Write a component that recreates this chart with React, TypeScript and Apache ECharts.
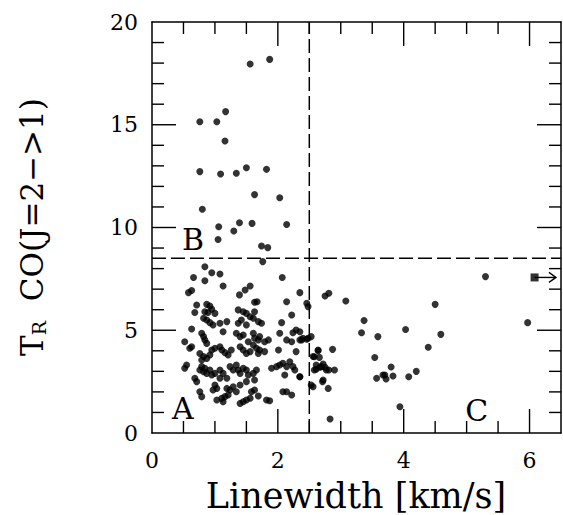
import React, { useEffect, useRef } from "react";
import * as echarts from "echarts";

// Linewidth [km/s], T_R CO(J=2->1)
const pointsB: [number, number][] = [
  [1.56, 17.96], [1.87, 18.18], [1.17, 15.64], [0.76, 15.15], [1.03, 15.15], [1.16, 14.21],
  [0.76, 12.72], [1.09, 12.6], [1.34, 12.64], [1.5, 12.91], [1.82, 12.83], [1.63, 11.6],
  [2.03, 11.45], [0.8, 10.89], [1.06, 10.04], [1.39, 10.23], [1.59, 10.2], [2.14, 10.15],
  [1.3, 9.83], [1.05, 9.42], [1.74, 9.1], [1.84, 9.02], [1.76, 8.34], [0.84, 8.09],
];

const pointsA: [number, number][] = [
  [0.66, 7.57], [0.84, 7.41], [0.95, 7.8], [1.08, 7.74], [1.13, 7.15], [0.58, 6.83], [0.63, 6.93],
  [1.39, 6.72], [1.48, 6.96], [1.56, 7.15], [2.07, 7.57], [2.35, 6.83], [2.46, 6.31], [2.48, 6.15],
  [2.14, 6.39], [2.22, 5.74], [1.63, 6.36], [1.67, 6.39], [0.71, 6.23], [0.68, 5.86],
  [0.87, 6.26], [0.92, 6.18], [0.95, 6.02], [0.84, 5.9], [0.89, 5.86], [1.0, 5.82],
  [0.82, 5.58], [0.87, 5.5], [0.92, 5.37], [0.97, 5.26], [1.08, 5.34], [1.19, 5.42],
  [1.37, 5.99], [1.45, 5.9], [1.5, 5.82], [1.56, 5.66], [1.63, 5.9], [1.61, 5.58], [1.69, 5.42], [1.74, 5.34],
  [1.37, 5.34], [1.42, 5.5], [1.5, 5.26], [2.06, 5.37], [0.63, 5.06],
  [1.34, 4.85], [1.4, 4.69], [1.45, 4.77], [1.53, 4.44], [1.61, 4.85], [1.63, 4.61], [1.69, 4.53],
  [1.71, 4.69], [1.79, 4.44], [1.85, 4.53], [1.13, 4.93],
  [0.79, 4.85], [0.82, 4.69], [0.84, 4.53], [0.87, 4.36], [0.52, 4.44], [0.63, 4.2], [0.6, 4.12],
  [0.95, 4.04], [1.0, 4.12], [1.08, 4.2], [1.11, 4.04], [1.16, 3.91], [1.21, 3.8], [1.26, 4.04],
  [1.4, 4.2], [1.45, 4.04], [1.5, 3.87], [1.56, 3.96], [1.61, 4.28], [1.66, 4.12], [1.69, 3.87],
  [1.71, 4.04], [1.79, 3.96],
  [0.76, 3.87], [0.82, 3.72], [0.87, 3.63], [0.79, 3.55], [0.92, 3.8],
  [2.03, 4.85], [2.14, 4.53], [2.22, 4.44], [2.29, 5.01], [2.35, 4.53], [2.4, 4.61], [2.48, 4.61],
  [2.53, 4.69], [2.24, 4.88], [2.01, 4.04], [2.29, 3.96], [2.64, 4.04], [2.87, 4.07],
  [2.56, 3.72], [2.66, 3.68], [2.61, 3.31], [2.69, 3.23], [2.72, 3.36], [2.77, 3.07], [2.9, 3.07],
  [2.58, 3.07], [2.72, 2.58], [2.8, 2.17], [2.53, 2.34], [2.83, 0.68],
  [0.55, 3.31], [0.52, 3.15], [0.79, 3.23], [0.76, 3.07], [0.82, 2.98], [0.87, 2.9], [0.84, 3.15],
  [0.92, 3.07], [0.95, 2.82], [1.0, 2.9], [1.08, 3.07], [1.13, 2.9], [1.19, 2.66], [1.08, 2.66],
  [0.68, 2.66], [0.71, 2.5],
  [1.34, 3.31], [1.37, 3.07], [1.4, 2.9], [1.45, 3.15], [1.5, 3.07], [1.53, 2.82], [1.61, 2.9],
  [1.66, 3.07], [1.24, 3.23], [1.29, 3.07],
  [1.9, 3.15], [1.98, 3.23], [2.03, 3.31], [2.08, 3.39], [2.14, 3.23], [2.19, 3.47], [2.24, 3.23],
  [2.27, 3.07], [2.11, 2.82], [2.35, 2.74],
  [1.0, 2.34], [1.03, 2.17], [0.97, 2.09], [1.19, 2.17], [1.24, 2.09], [1.29, 2.25], [1.34, 2.01],
  [1.4, 2.34], [1.5, 2.5], [1.63, 2.58], [0.76, 2.01], [0.79, 1.77],
  [1.03, 1.61], [1.11, 1.69], [1.16, 1.77], [1.21, 1.85], [1.13, 1.52],
  [1.4, 1.44], [1.45, 1.52], [1.5, 1.61], [1.56, 1.69], [1.69, 1.8], [1.82, 1.61], [1.87, 1.57],
  [2.08, 2.01], [2.14, 2.01], [2.22, 1.85], [1.58, 2.01], [1.63, 2.09],
  [2.75, 6.67], [2.81, 6.8], [2.35, 4.93], [2.38, 4.53], [2.46, 4.56], [2.64, 4.0],
  [2.58, 3.71], [2.67, 3.2], [2.61, 3.1], [2.75, 3.2], [2.81, 3.07], [2.35, 2.74],
  [2.56, 2.25], [2.71, 2.5],
];

const pointsC: [number, number][] = [
  [3.08, 6.42], [5.3, 7.61], [4.5, 6.26], [3.37, 5.47], [3.33, 4.88], [3.59, 4.69], [4.03, 5.04],
  [4.59, 4.8], [4.39, 4.17], [5.97, 5.37], [3.54, 3.67], [3.8, 3.21], [3.67, 2.82], [3.7, 2.82],
  [3.83, 2.77], [3.72, 2.63], [3.57, 2.66], [4.08, 2.74], [4.2, 3.0], [3.94, 1.28],
];

const lowerLimit: [number, number][] = [[6.08, 7.57]];
const arrowEndX = 6.42;

const splitX = 2.5;
const splitY = 8.5;

const regionNames = ["A", "B", "C"];
const regionX = [0.49, 0.65, 5.16];
const regionY = [1.2, 9.4, 1.1];

const xMajorTicks = [2, 4, 6];
const xMinorTicks = [0.5, 1, 1.5, 2.5, 3, 3.5, 4.5, 5, 5.5];
const yMajorTicks = [5, 10, 15];
const yMinorTicks = [1, 2, 3, 4, 6, 7, 8, 9, 11, 12, 13, 14, 16, 17, 18, 19];

const xTicks = { min: 0, max: 6.5, interval: 2 };
const yTicks = { min: 0, max: 20, interval: 5 };

const FONT = "DejaVu Serif";
const W = 563;
const H = 515;
const GRID = { left: 152, right: 2, top: 22, bottom: 82 };
const MAJOR_LEN = 24;
const MINOR_LEN = 12;

export default function App() {
  const ref = useRef<HTMLDivElement>(null);
  useEffect(() => {
    if (!ref.current) return;
    const chart = echarts.init(ref.current, undefined, { renderer: "svg" });
    const line = { color: "#000", width: 1.5 };
    const noSplit = { splitLine: { show: false }, minorSplitLine: { show: false } };
    const labelStyle = { color: "#000", fontFamily: FONT, fontSize: 22 };

    chart.setOption({
      animation: false,
      backgroundColor: "#fff",
      grid: { ...GRID, containLabel: false },
      xAxis: [
        {
          type: "value", ...xTicks, position: "bottom",
          axisLine: { show: true, onZero: false, lineStyle: line },
          axisTick: { show: false },
          minorTick: { show: false },
          axisLabel: { ...labelStyle, margin: 16, showMaxLabel: false },
          ...noSplit,
        },
        {
          type: "value", ...xTicks, position: "top",
          axisLine: { show: true, onZero: false, lineStyle: { color: "#000", width: 1.5 } },
          axisTick: { show: false },
          minorTick: { show: false },
          axisLabel: { show: false },
          ...noSplit,
        },
      ],
      yAxis: [
        {
          type: "value", ...yTicks, position: "left",
          axisLine: { show: true, onZero: false, lineStyle: line },
          axisTick: { show: false },
          minorTick: { show: false },
          axisLabel: { ...labelStyle, margin: 14 },
          ...noSplit,
        },
        {
          type: "value", ...yTicks, position: "right",
          axisLine: { show: true, onZero: false, lineStyle: { color: "#000", width: 1.5 } },
          axisTick: { show: false },
          minorTick: { show: false },
          axisLabel: { show: false },
          ...noSplit,
        },
      ],
      series: [
        {
          type: "scatter",
          data: [...pointsA, ...pointsB, ...pointsC],
          symbol: "circle",
          symbolSize: 7,
          itemStyle: { color: "#000" },
        },
        {
          type: "custom",
          data: [[splitX, splitY]],
          renderItem: (params: any, api: any) => {
            const a = api.coord([api.value(0), yTicks.min]);
            const b = api.coord([api.value(0), yTicks.max]);
            const c = api.coord([xTicks.min, api.value(1)]);
            const d = api.coord([xTicks.max, api.value(1)]);
            return {
              type: "group",
              children: [
                { type: "line", shape: { x1: a[0], y1: a[1], x2: b[0], y2: b[1] }, style: { stroke: "#000", lineWidth: 1.5, lineDash: [14, 5] } },
                { type: "line", shape: { x1: c[0], y1: c[1], x2: d[0], y2: d[1] }, style: { stroke: "#000", lineWidth: 1.5, lineDash: [14, 5] } },
              ],
            };
          },
        },
        {
          type: "scatter",
          data: lowerLimit,
          symbol: "rect",
          symbolSize: 8,
          itemStyle: { color: "#000" },
        },
        {
          type: "custom",
          data: lowerLimit.map((p) => [p[0], p[1], arrowEndX]),
          renderItem: (params: any, api: any) => {
            const p = api.coord([api.value(0), api.value(1)]);
            const e = api.coord([api.value(2), api.value(1)]);
            return {
              type: "group",
              children: [
                { type: "line", shape: { x1: p[0], y1: p[1], x2: e[0], y2: e[1] }, style: { stroke: "#000", lineWidth: 1.4 } },
                {
                  type: "polyline",
                  shape: { points: [[e[0] - 7, e[1] - 5], [e[0], e[1]], [e[0] - 7, e[1] + 5]] },
                  style: { stroke: "#000", fill: null, lineWidth: 1.4 },
                },
              ],
            };
          },
        },
        {
          type: "custom",
          data: regionNames.map((n, i) => [regionX[i], regionY[i], n]),
          renderItem: (params: any, api: any) => {
            const p = api.coord([api.value(0), api.value(1)]);
            return {
              type: "text",
              x: p[0],
              y: p[1],
              style: {
                text: regionNames[params.dataIndex],
                fill: "#000",
                font: `30px '${FONT}'`,
                textAlign: "center",
                textVerticalAlign: "middle",
              },
            };
          },
        },
      ],
    });

    // inward ticks on all four edges, placed through the library's own scales
    const px = (x: number, y: number) => chart.convertToPixel({ gridIndex: 0 }, [x, y]) as number[];
    const tickEls: any[] = [];
    const addTick = (x1: number, y1: number, x2: number, y2: number) =>
      tickEls.push({ type: "line", shape: { x1, y1, x2, y2 }, style: { stroke: "#000", lineWidth: 1.4 } });
    const xt = [...xMajorTicks.map((v) => [v, MAJOR_LEN]), ...xMinorTicks.map((v) => [v, MINOR_LEN])];
    const yt = [...yMajorTicks.map((v) => [v, MAJOR_LEN]), ...yMinorTicks.map((v) => [v, MINOR_LEN])];
    xt.forEach(([v, len]) => {
      const b = px(v, yTicks.min);
      const t = px(v, yTicks.max);
      addTick(b[0], b[1], b[0], b[1] - len);
      addTick(t[0], t[1], t[0], t[1] + len);
    });
    yt.forEach(([v, len]) => {
      const l = px(xTicks.min, v);
      const r = px(xTicks.max, v);
      addTick(l[0], l[1], l[0] + len, l[1]);
      addTick(r[0], r[1], r[0] - len, r[1]);
    });

    chart.setOption({
      graphic: [
        { id: "ticks", type: "group", silent: true, children: tickEls },
        {
          id: "xTitle",
          type: "text",
          x: 356,
          y: 496,
          style: {
            text: "Linewidth [km/s]",
            fill: "#000",
            font: `35px '${FONT}'`,
            textAlign: "center",
            textVerticalAlign: "middle",
          },
        },
        {
          id: "yTitle",
          type: "text",
          x: 32,
          y: 227,
          rotation: Math.PI / 2,
          style: {
            text: "{t|T}{s|R}{t|  CO(J=2−>1)}",
            fill: "#000",
            textAlign: "center",
            textVerticalAlign: "middle",
            rich: {
              t: { fontFamily: FONT, fontSize: 31, fill: "#000" },
              s: { fontFamily: FONT, fontSize: 19, fill: "#000", padding: [13, 0, 0, 0] },
            },
          },
        },
      ],
    });
    return () => chart.dispose();
  }, []);
  return <div ref={ref} style={{ width: W, height: H, position: "absolute", left: 0, top: 0 }} />;
}
